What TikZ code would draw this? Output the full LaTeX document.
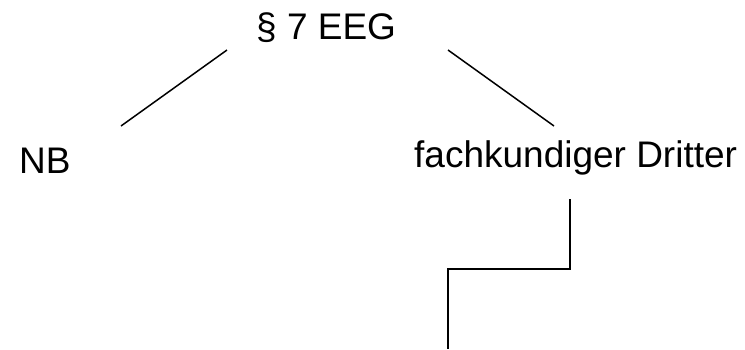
\documentclass[tikz,border=0pt]{standalone}
\usepackage{fontspec}
\setmainfont{Liberation Sans}
\begin{document}
\begin{tikzpicture}[x=1pt,y=-1pt,
  lbl/.style={inner sep=0pt,anchor=base west,font=\fontsize{37}{42}\selectfont},
  conn/.style={line width=1.5pt,black}]
\useasboundingbox (0,0) rectangle (745,349);
\node[lbl] (eeg) at (256,39) {§ 7 EEG};
\node[lbl] (nb) at (19,173) {NB};
\node[lbl] (dritter) at (414,167) {fachkundiger Dritter};
\coordinate (l1a) at (227,50);
\coordinate (l1b) at (121,126);
\coordinate (l2a) at (448,50);
\coordinate (l2b) at (554,126);
\coordinate (s1) at (570,199);
\coordinate (s2) at (570,269);
\coordinate (s3) at (448,269);
\coordinate (s4) at (448,349);
\draw[conn] (l1a) -- (l1b);
\draw[conn] (l2a) -- (l2b);
\draw[conn] (s1) -- (s2) -- (s3) -- (s4);
\end{tikzpicture}
\end{document}
